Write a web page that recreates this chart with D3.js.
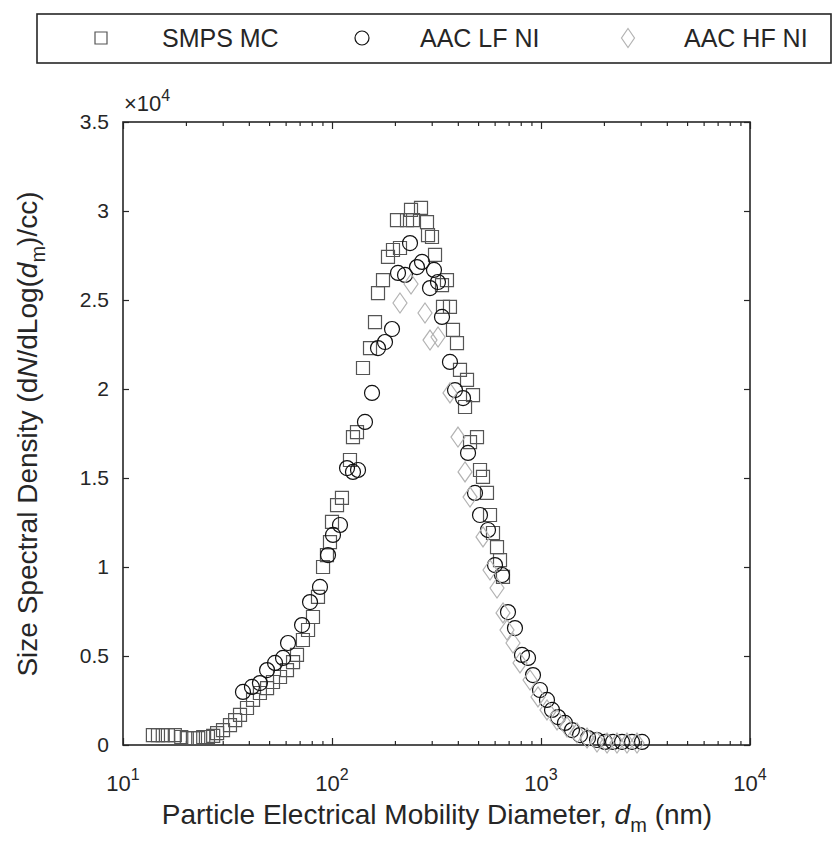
<!DOCTYPE html>
<html>
<head>
<meta charset="utf-8">
<script src="https://cdn.jsdelivr.net/npm/d3@7"></script>
<style>
  body { margin: 0; background: #fff; }
  svg text { font-family: "Liberation Sans", Arial, Helvetica, sans-serif; fill: #262626; }
</style>
</head>
<body>
<svg id="chart" width="833" height="844"></svg>
<script>
// SMPS MC (squares)
const smpsDiameter = [13.9, 14.7, 15.5, 16.4, 17.7, 19.0, 20.2, 21.6, 22.9, 24.2, 25.5, 27.0, 28.2, 30.1,
  32.5, 34.4, 36.3, 39.2, 41.9, 45.2, 48.9, 52.2, 56.4, 60.9, 65.1, 68.0, 72.6, 76.8, 81.1, 85.7, 90.6,
  94.6, 97.8, 100, 105.7, 111.6, 121.9, 126.0, 131.7, 140.7, 152.0, 160.6, 166.0, 175.4, 185.3, 195.8,
  204.6, 211.5, 228.5, 238.8, 244.1, 266.6, 284.8, 288.0, 300.9, 311.1, 336, 339.7, 354.9, 366.8, 379.2,
  396.3, 409.6, 433, 442.6, 457.5, 472.8, 494.1, 510.7, 527.8, 551.5, 570.2, 589.3, 615.9, 636.6, 657.9];
const smpsDensity = [560, 560, 560, 560, 560, 450, 390, 390, 390, 450, 450, 510, 670, 840,
  1120, 1400, 1690, 2080, 2530, 2920, 3200, 3540, 3820, 4210, 4660, 5060, 5900, 6460, 7190, 8320, 10000,
  10670, 11400, 12530, 13480, 13880, 16010, 17300, 17580, 21180, 22300, 23760, 25390, 26120, 27420, 27810,
  29490, 27920, 29490, 30060, 29490, 30170, 29380, 28650, 28540, 27530, 25840, 24610, 26120, 24610, 23320,
  22580, 21070, 18990, 20510, 17020, 19660, 17300, 15450, 15060, 14160, 12920, 11910, 11120, 10390, 9440];

// AAC LF NI (circles)
const lfDiameter = [37.5, 41.4, 45.2, 48.9, 53.4, 58.3, 61.6, 71.9, 78.5, 87.6, 95.7, 101.1, 109.2, 118.0,
  126.0, 133.2, 143.8, 155.4, 166.0, 179.3, 193.7, 206.9, 223.6, 236.2, 255.0, 269.6, 294.4, 307.6, 321.4,
  336, 366.8, 387.7, 423.6, 447.6, 483.3, 510.7, 557.7, 602.5, 650.8, 695.1, 750.7, 811.1, 866.7, 915.6,
  989, 1068, 1129, 1206, 1302, 1407, 1537, 1679, 1853, 2025, 2211, 2442, 2726, 3043];
const lfDensity = [2980, 3260, 3480, 4210, 4610, 4890, 5730, 6740, 8030, 8880, 10670, 11800, 12360, 15560,
  15340, 15450, 18150, 19780, 22300, 22640, 23370, 26520, 26410, 28200, 26850, 27140, 25670, 26690, 26010,
  24050, 21520, 19940, 19490, 16410, 14160, 12920, 12080, 10110, 9550, 7470, 6570, 5060, 4890, 3930,
  3090, 2530, 1970, 1570, 1240, 840, 560, 390, 280, 170, 170, 170, 170, 170];

// AAC HF NI (diamonds)
const hfDiameter = [211.5, 238.8, 278.6, 294.4, 321.6, 366.8, 400.7, 433, 457.5, 527.8, 570.2, 615.9,
  657.9, 687.6, 734.5, 793.4, 886.1, 967.3, 1068, 1193, 1332, 1487, 1661, 1853, 2070, 2310, 2579, 2880];
const hfDensity = [24830, 25900, 24270, 22750, 22920, 19780, 17300, 15340, 13930, 11690, 9830, 8820,
  7420, 6460, 5730, 4610, 3650, 2700, 1970, 1410, 1010, 670, 390, 170, 110, 110, 110, 110];

const xMajor = [10, 100, 1000, 10000];
const xMinor = [2, 3, 4, 5, 6, 7, 8, 9].flatMap((m) => [10, 100, 1000].map((d) => m * d));
const yTicks = [0, 5000, 10000, 15000, 20000, 25000, 30000, 35000];
const legendLabels = ["SMPS MC", "AAC LF NI", "AAC HF NI"];

const margin = { top: 122, right: 83, bottom: 99, left: 123 };
const width = 833, height = 844;
const svg = d3.select("#chart");

const x = d3.scaleLog().domain([10, 10000]).range([margin.left, width - margin.right]);
const y = d3.scaleLinear().domain([0, 35000]).range([height - margin.bottom, margin.top]);

const axisColor = "#262626";
const styleAxis = (g) => {
  g.select(".domain").remove();
  g.selectAll(".tick line").attr("stroke", axisColor).attr("stroke-width", 1.2);
  g.selectAll("text").attr("fill", axisColor).attr("font-size", 21);
};

// x axes (bottom + mirrored top), major and minor ticks
svg.append("g")
  .attr("transform", `translate(0,${y(0)})`)
  .call(d3.axisBottom(x).tickValues(xMajor).tickSize(-7).tickFormat(""))
  .call(styleAxis);
svg.append("g")
  .attr("transform", `translate(0,${y(0)})`)
  .call(d3.axisBottom(x).tickValues(xMinor).tickSize(-4).tickFormat(""))
  .call(styleAxis);
svg.append("g")
  .attr("transform", `translate(0,${y(35000)})`)
  .call(d3.axisTop(x).tickValues(xMajor).tickSize(-7).tickFormat(""))
  .call(styleAxis);
svg.append("g")
  .attr("transform", `translate(0,${y(35000)})`)
  .call(d3.axisTop(x).tickValues(xMinor).tickSize(-4).tickFormat(""))
  .call(styleAxis);

// y axes
svg.append("g")
  .attr("transform", `translate(${x(10)},0)`)
  .call(d3.axisLeft(y).tickValues(yTicks).tickSize(-6).tickPadding(14).tickFormat((d) => d / 1e4))
  .call(styleAxis);
svg.append("g")
  .attr("transform", `translate(${x(10000)},0)`)
  .call(d3.axisRight(y).tickValues(yTicks).tickSize(-6).tickFormat(""))
  .call(styleAxis);

// box
svg.append("rect")
  .attr("x", x(10)).attr("y", y(35000))
  .attr("width", x(10000) - x(10)).attr("height", y(0) - y(35000))
  .attr("fill", "none").attr("stroke", axisColor).attr("stroke-width", 1.6);

// decade labels 10^n
const decLabels = svg.append("g").selectAll("text").data(xMajor).join("text")
  .attr("x", (d) => x(d)).attr("y", 791)
  .attr("text-anchor", "middle").attr("font-size", 22);
decLabels.append("tspan").text("10");
decLabels.append("tspan").attr("dy", -11).attr("font-size", 16).text((d) => Math.round(Math.log10(d)));

// exponent label
const expo = svg.append("text").attr("x", 124).attr("y", 111).attr("font-size", 22);
expo.append("tspan").text("\u00d710");
expo.append("tspan").attr("dy", -10).attr("font-size", 16).text("4");

// x label
const xl = svg.append("text").attr("x", 437).attr("y", 824).attr("text-anchor", "middle").attr("font-size", 28);
xl.append("tspan").text("Particle Electrical Mobility Diameter, ");
xl.append("tspan").attr("font-style", "italic").text("d");
xl.append("tspan").attr("dy", 8).attr("font-size", 20).text("m");
xl.append("tspan").attr("dy", -8).text(" (nm)");

// y label
const yl = svg.append("text").attr("transform", "translate(37,434) rotate(-90)")
  .attr("text-anchor", "middle").attr("font-size", 28);
yl.append("tspan").text("Size Spectral Density (d");
yl.append("tspan").attr("font-style", "italic").text("N");
yl.append("tspan").text("/dLog(");
yl.append("tspan").attr("font-style", "italic").text("d");
yl.append("tspan").attr("dy", 8).attr("font-size", 20).text("m");
yl.append("tspan").attr("dy", -8).text(")/cc)");

// markers
const squarePath = (s) => `M${-s / 2},${-s / 2}h${s}v${s}h${-s}Z`;
const diamondPath = (w, h) => `M0,${-h / 2}L${w / 2},0L0,${h / 2}L${-w / 2},0Z`;

const plot = svg.append("g");
plot.append("g").selectAll("path")
  .data(d3.zip(smpsDiameter, smpsDensity)).join("path")
  .attr("transform", (d) => `translate(${x(d[0])},${y(d[1])})`)
  .attr("d", squarePath(13))
  .attr("fill", "none").attr("stroke", "#555").attr("stroke-width", 1.2);
plot.append("g").selectAll("circle")
  .data(d3.zip(lfDiameter, lfDensity)).join("circle")
  .attr("cx", (d) => x(d[0])).attr("cy", (d) => y(d[1])).attr("r", 7.5)
  .attr("fill", "none").attr("stroke", "#111").attr("stroke-width", 1.2);
plot.append("g").selectAll("path")
  .data(d3.zip(hfDiameter, hfDensity)).join("path")
  .attr("transform", (d) => `translate(${x(d[0])},${y(d[1])})`)
  .attr("d", diamondPath(14, 20))
  .attr("fill", "none").attr("stroke", "#b3b3b3").attr("stroke-width", 1.2);

// legend
svg.append("rect").attr("x", 37).attr("y", 14).attr("width", 794).attr("height", 49)
  .attr("fill", "#fff").attr("stroke", axisColor).attr("stroke-width", 1.6);
const legendMarkX = [101, 362, 628];
const legendTextX = [162, 420, 684];
const lg = svg.append("g");
lg.append("path").attr("transform", `translate(${legendMarkX[0]},38)`).attr("d", squarePath(12))
  .attr("fill", "none").attr("stroke", "#555").attr("stroke-width", 1.2);
lg.append("circle").attr("cx", legendMarkX[1]).attr("cy", 38).attr("r", 7)
  .attr("fill", "none").attr("stroke", "#111").attr("stroke-width", 1.2);
lg.append("path").attr("transform", `translate(${legendMarkX[2]},38)`).attr("d", diamondPath(13, 19))
  .attr("fill", "none").attr("stroke", "#b3b3b3").attr("stroke-width", 1.2);
lg.selectAll("text").data(legendLabels).join("text")
  .attr("x", (d, i) => legendTextX[i]).attr("y", 47).attr("font-size", 25)
  .text((d) => d);
</script>
</body>
</html>
